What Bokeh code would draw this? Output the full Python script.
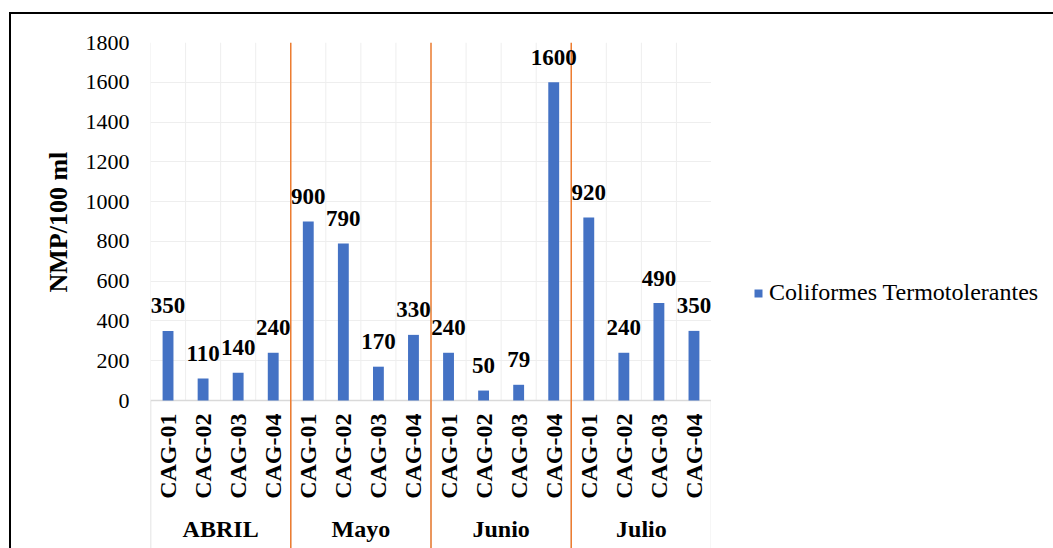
import math
from bokeh.plotting import figure
from bokeh.layouts import row
from bokeh.models import (FactorRange, Range1d, FixedTicker, ColumnDataSource,
                          Legend, LegendItem, Title)
from bokeh.core.properties import value
from bokeh.embed import file_html
from bokeh.resources import INLINE

# ---------------- data ----------------
months = ["ABRIL", "Mayo", "Junio", "Julio"]
stations = ["CAG-01", "CAG-02", "CAG-03", "CAG-04"]
vals_abril = [350, 110, 140, 240]
vals_mayo = [900, 790, 170, 330]
vals_junio = [240, 50, 79, 1600]
vals_julio = [920, 240, 490, 350]
y_ticks = [0, 200, 400, 600, 800, 1000, 1200, 1400, 1600, 1800]
series_name = "Coliformes Termotolerantes"
y_title = "NMP/100 ml"

factors = [(m, s) for m in months for s in stations]
values = vals_abril + vals_mayo + vals_junio + vals_julio

# ---------------- layout geometry ----------------
# canvas origin on the page: x = 9 (margin) + 2 (border) = 11, y = 12 + 2 = 14
W_MAIN, W_LEG, H = 700, 342, 534
FONT = "'Liberation Serif', 'Times New Roman', 'DejaVu Serif', serif"
BLUE = "#4472C4"
ORANGE = "#ED7D31"
GRID = "#EEEEEE"
AXIS = "#D9D9D9"

frame_top_px = 28      # canvas y of 1800
zero_px = 386          # canvas y of 0
bottom_px = H          # canvas bottom
ymax = y_ticks[-1]
ymin = -ymax * (bottom_px - zero_px) / (zero_px - frame_top_px)

xr = FactorRange(*factors, factor_padding=0, group_padding=0,
                 subgroup_padding=0, range_padding=0)

p = figure(width=W_MAIN, height=H, output_backend="svg", toolbar_location=None,
           x_range=xr, y_range=Range1d(ymin, ymax), x_axis_location=None,
           min_border_left=139, min_border_right=0,
           min_border_top=frame_top_px, min_border_bottom=0)
p.title.visible = False
p.outline_line_color = None
p.background_fill_color = "white"
p.border_fill_color = "white"
p.xgrid.visible = False
p.ygrid.ticker = FixedTicker(ticks=y_ticks[1:])
p.ygrid.grid_line_color = GRID
p.ygrid.grid_line_width = 1

ax = p.yaxis[0]
ax.ticker = FixedTicker(ticks=y_ticks)
ax.axis_line_color = None
ax.major_tick_line_color = None
ax.minor_tick_line_color = None
ax.major_tick_out = 0
ax.major_tick_in = 0
ax.major_label_standoff = 21
ax.major_label_text_font = FONT
ax.major_label_text_font_size = "22px"
ax.major_label_text_color = "black"

# y title
t = Title(text=y_title, align="left", vertical_align="bottom", offset=256,
          standoff=20, text_font=FONT, text_font_style="bold",
          text_font_size="26px", text_color="black")
p.add_layout(t, "left")

# vertical light grid lines at every category boundary
bx = [(m, s, -0.5) for (m, s) in factors] + [(months[-1], stations[-1], 0.5)]
p.segment(x0=bx, x1=bx, y0=[0] * len(bx), y1=[ymax] * len(bx),
          line_color=GRID, line_width=1)

# axis area separators (left edge, group edges, right edge)
gx = [(m, stations[0], -0.5) for m in months] + [(months[-1], stations[-1], 0.5)]
p.segment(x0=gx, x1=gx, y0=[0] * len(gx), y1=[ymin] * len(gx),
          line_color=AXIS, line_width=1.5)

# zero (category axis) line
p.segment(x0=[(months[0], stations[0], -0.5)], x1=[(months[-1], stations[-1], 0.5)],
          y0=[0], y1=[0], line_color=AXIS, line_width=1.5)

# bars
src = ColumnDataSource(dict(x=factors, top=values, lab=[str(v) for v in values]))
bars = p.vbar(x="x", top="top", width=0.31, source=src, fill_color=BLUE,
              line_color=None)

# orange manual separators between months
ox = [(m, stations[-1], 0.5) for m in months[:-1]]
p.segment(x0=ox, x1=ox, y0=[ymax] * len(ox), y1=[ymin] * len(ox),
          line_color=ORANGE, line_width=1.5)

# data labels
p.text(x="x", y="top", text="lab", source=src, text_align="center",
       text_baseline="middle", y_offset=-25, text_font=value(FONT),
       text_font_style="bold", text_font_size="23px", text_color="black")

# station labels (rotated)
p.text(x=factors, y=[0] * len(factors), text=[s for (m, s) in factors],
       angle=math.pi / 2, text_align="right", text_baseline="middle",
       y_offset=13, text_font=value(FONT), text_font_style="bold",
       text_font_size="24px", text_color="black")

# month labels
p.text(x=months, y=[0] * len(months), text=months, text_align="center",
       text_baseline="middle", y_offset=128, text_font=value(FONT),
       text_font_style="bold", text_font_size="24px", text_color="black")

# ---------------- legend panel (right of the plot area) ----------------
pl = figure(width=W_LEG, height=H, output_backend="svg", toolbar_location=None,
            x_range=Range1d(0, 1), y_range=Range1d(0, 1), x_axis_location=None,
            y_axis_location=None, min_border=0)
pl.title.visible = False
pl.outline_line_color = None
pl.xgrid.visible = False
pl.ygrid.visible = False
pl.background_fill_color = "white"
pl.border_fill_color = "white"
# legend proxy renderer (hidden; only its legend swatch is shown)
leg_bars = pl.vbar(x=[0.5], top=[values[0]], width=0.31, fill_color=BLUE,
                   line_color=None, visible=False)
legend = Legend(items=[LegendItem(label=series_name, renderers=[leg_bars])],
                location=(42, 242), glyph_width=10, glyph_height=10,
                label_standoff=6, padding=0, margin=0, spacing=0,
                border_line_color=None, background_fill_alpha=0,
                inactive_fill_alpha=0,
                label_text_font=FONT, label_text_font_size="24px",
                label_text_color="black")
pl.add_layout(legend, "center")

layout = row(p, pl, spacing=0)
layout.styles = {"border-top": "2px solid black", "border-left": "2px solid black",
                 "margin-top": "12px", "margin-left": "9px"}

open("out.html", "w").write(file_html(layout, INLINE))
